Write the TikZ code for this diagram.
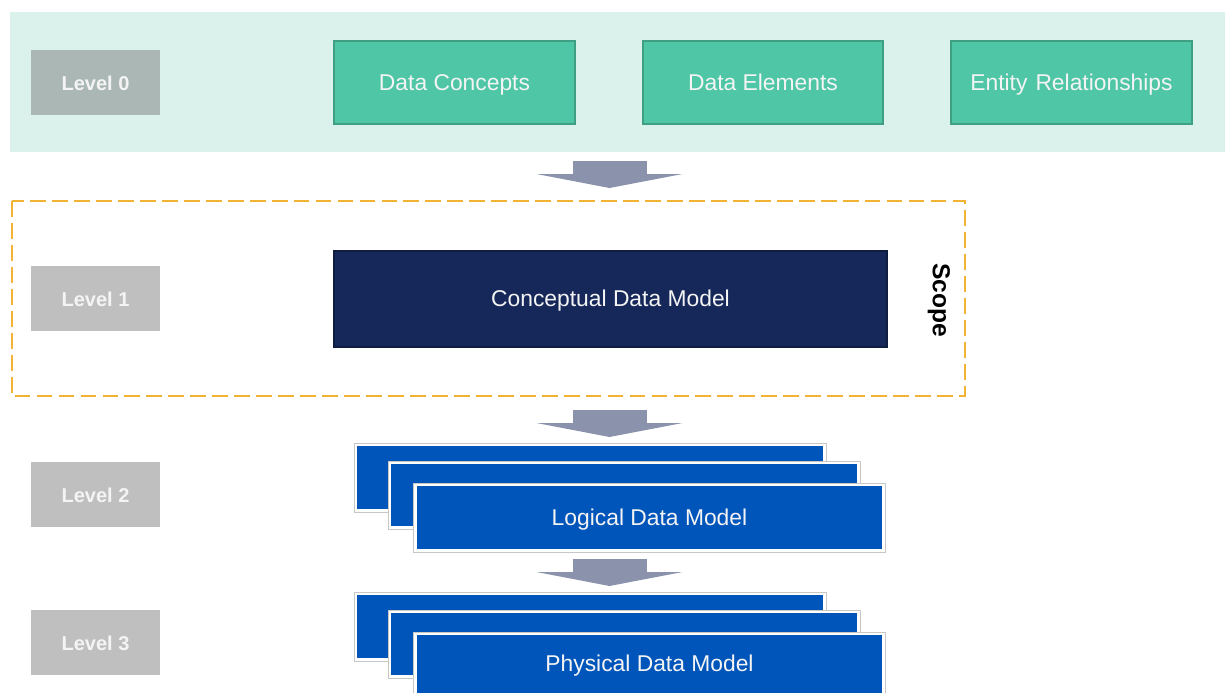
\documentclass[tikz,border=0pt]{standalone}
\usepackage{fontspec}
\setmainfont{Liberation Sans}
\definecolor{band}{HTML}{DBF1EC}
\definecolor{lvlzero}{HTML}{AAB7B4}
\definecolor{lvl}{HTML}{BFBFBF}
\definecolor{mint}{HTML}{4FC6A6}
\definecolor{mintdark}{HTML}{3F9F83}
\definecolor{navy}{HTML}{16285A}
\definecolor{navydark}{HTML}{0F1D40}
\definecolor{royal}{HTML}{0055BB}
\definecolor{arrowgray}{HTML}{8A93AB}
\definecolor{scopecol}{HTML}{F2B233}
\definecolor{txt}{HTML}{F4F4F4}
\tikzset{
  evenline/.style={text height=1.8ex, text depth=0.15ex},
  lvlbox/.style={fill=lvl, minimum width=2.58cm, minimum height=1.3cm, inner sep=0pt,
    text=txt, font=\bfseries\fontsize{11.4}{13}\selectfont, evenline},
  greenbox/.style={fill=mint, draw=mintdark, line width=0.9pt, minimum width=4.82cm,
    minimum height=1.66cm, inner sep=0pt, text=txt, font=\fontsize{13}{15}\selectfont, evenline},
  navybox/.style={fill=navy, draw=navydark, line width=0.8pt, minimum width=11.06cm,
    minimum height=1.92cm, inner sep=0pt, text=txt, font=\fontsize{13}{15}\selectfont, evenline},
  stackbox/.style={fill=white, draw=black!22, line width=0.5pt, minimum width=9.44cm,
    minimum height=1.38cm, inner sep=0pt, text=txt, font=\fontsize{13}{15}\selectfont, evenline,
    path picture={\fill[royal] ([xshift=0.06cm,yshift=0.06cm]path picture bounding box.south west)
      rectangle ([xshift=-0.06cm,yshift=-0.06cm]path picture bounding box.north east);}},
  blockarrow/.pic={
    \fill[arrowgray] (-37,0) rectangle (37,13);
    \fill[arrowgray] (-73,13) -- (73,13) -- (0,27) -- cycle;
  }
}
\begin{document}
\begin{tikzpicture}[x=0.02cm, y=-0.02cm]
\useasboundingbox (0,0) rectangle (1225,693);
\clip (0,0) rectangle (1225,693);
\fill[white] (0,0) rectangle (1225,693);
% top band
\fill[band] (10,12) rectangle (1225,152);
\node[lvlbox, fill=lvlzero] (l0) at (95.5,82.5) {Level 0};
\node[greenbox] (dc) at (454.5,82.5) {Data Concepts};
\node[greenbox, minimum width=4.8cm] (de) at (763,82.5) {Data Elements};
\node[greenbox] (er) at (1071.5,82.5) {Entity\hspace{0.35em}Relationships};
% arrow 1
\pic at (609.5,161) {blockarrow};
% scope
\draw[scopecol, line width=1.3pt, dash pattern=on 9pt off 3.5pt] (12,201) rectangle (965,396);
\node[lvlbox] (l1) at (95.5,298.5) {Level 1};
\node[navybox] (cdm) at (610.5,299) {Conceptual Data Model};
\node[rotate=-90, font=\bfseries\fontsize{14}{16}\selectfont] (scope) at (939,300) {Scope};
% arrow 2
\pic at (609.5,410) {blockarrow};
% level 2
\node[lvlbox] (l2) at (95.5,494.5) {Level 2};
\node[stackbox] (lg1) at (590,477.5) {};
\node[stackbox, minimum height=1.36cm] (lg2) at (624,495) {};
\node[stackbox] (lg3) at (649.5,517.5) {Logical Data Model};
% arrow 3
\pic at (609.5,559) {blockarrow};
% level 3
\node[lvlbox] (l3) at (95.5,642.5) {Level 3};
\node[stackbox] (ph1) at (590,626.5) {};
\node[stackbox, minimum height=1.36cm] (ph2) at (624,644) {};
\node[stackbox] (ph3) at (649.5,666.5) {};
\node[text=txt, font=\fontsize{13}{15}\selectfont, evenline] (phtxt) at (649.5,664) {Physical Data Model};
\end{tikzpicture}
\end{document}
